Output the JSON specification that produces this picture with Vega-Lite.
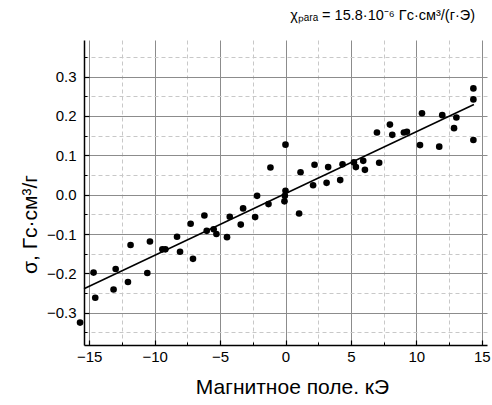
{
  "$schema": "https://vega.github.io/schema/vega-lite/v6.json",
  "width": 403,
  "height": 305,
  "autosize": {"type": "none"},
  "padding": {"left": 84, "top": 40, "right": 5, "bottom": 60},
  "background": "white",
  "title": {"text": "χₚₐᵣₐ = 15.8·10⁻⁶ Гс·см³/(г·Э)", "anchor": "end", "frame": "group", "fontSize": 14.5, "font": "Liberation Sans", "fontWeight": "normal", "color": "black", "offset": 17, "dx": -12},
  "config": {"view": {"stroke": null}, "font": "Liberation Sans"},
  "datasets": {
    "fit": [
      {"H": -15.4, "sigma": -0.239},
      {"H": 14.4, "sigma": 0.229}
    ],
    "points": [
      {"H": -15.7, "sigma": -0.325},
      {"H": -14.67, "sigma": -0.198},
      {"H": -14.54, "sigma": -0.262},
      {"H": -13.14, "sigma": -0.241},
      {"H": -12.98, "sigma": -0.189},
      {"H": -12.04, "sigma": -0.222},
      {"H": -11.84, "sigma": -0.128},
      {"H": -10.56, "sigma": -0.199},
      {"H": -10.36, "sigma": -0.119},
      {"H": -9.41, "sigma": -0.139},
      {"H": -9.18, "sigma": -0.139},
      {"H": -8.29, "sigma": -0.107},
      {"H": -8.06, "sigma": -0.145},
      {"H": -7.25, "sigma": -0.074},
      {"H": -7.07, "sigma": -0.163},
      {"H": -6.2, "sigma": -0.053},
      {"H": -6.02, "sigma": -0.092},
      {"H": -5.49, "sigma": -0.088},
      {"H": -5.28, "sigma": -0.1},
      {"H": -4.47, "sigma": -0.108},
      {"H": -4.26, "sigma": -0.056},
      {"H": -3.42, "sigma": -0.076},
      {"H": -3.24, "sigma": -0.035},
      {"H": -2.32, "sigma": -0.057},
      {"H": -2.17, "sigma": -0.003},
      {"H": -1.3, "sigma": -0.024},
      {"H": -1.15, "sigma": 0.069},
      {"H": 0, "sigma": 0.127},
      {"H": 0, "sigma": 0.01},
      {"H": -0.05, "sigma": -0.003},
      {"H": -0.08, "sigma": -0.017},
      {"H": 1.04, "sigma": -0.048},
      {"H": 1.15, "sigma": 0.057},
      {"H": 2.11, "sigma": 0.024},
      {"H": 2.22, "sigma": 0.076},
      {"H": 3.14, "sigma": 0.03},
      {"H": 3.26, "sigma": 0.07},
      {"H": 4.18, "sigma": 0.037},
      {"H": 4.36, "sigma": 0.077},
      {"H": 5.23, "sigma": 0.082},
      {"H": 5.38, "sigma": 0.07},
      {"H": 5.94, "sigma": 0.086},
      {"H": 6.07, "sigma": 0.063},
      {"H": 6.99, "sigma": 0.158},
      {"H": 7.16, "sigma": 0.081},
      {"H": 7.98, "sigma": 0.178},
      {"H": 8.16, "sigma": 0.152},
      {"H": 9.05, "sigma": 0.158},
      {"H": 9.28, "sigma": 0.16},
      {"H": 10.28, "sigma": 0.126},
      {"H": 10.43, "sigma": 0.207},
      {"H": 11.75, "sigma": 0.122},
      {"H": 11.98, "sigma": 0.202},
      {"H": 12.88, "sigma": 0.169},
      {"H": 13.06, "sigma": 0.196},
      {"H": 14.36, "sigma": 0.27},
      {"H": 14.36, "sigma": 0.242},
      {"H": 14.36, "sigma": 0.139}
    ]
  },
  "layer": [
    {
      "data": {"name": "fit"},
      "mark": {"type": "line", "color": "black", "strokeWidth": 1.5},
      "encoding": {
        "x": {
          "field": "H", "type": "quantitative",
          "scale": {"domain": [-15.4, 15.4], "nice": false, "zero": false},
          "axis": {"orient": "bottom", "values": [-12.5, -7.5, -2.5, 2.5, 7.5, 12.5], "grid": true, "gridColor": "#c8c8c8", "gridDash": [4, 3], "gridWidth": 1, "gridOpacity": 1, "labels": false, "domain": false, "ticks": true, "tickSize": -3, "tickColor": "black", "tickWidth": 1, "title": null}
        },
        "y": {
          "field": "sigma", "type": "quantitative",
          "scale": {"domain": [-0.382, 0.393], "nice": false, "zero": false},
          "axis": {"orient": "left", "values": [-0.35, -0.25, -0.15, -0.05, 0.05, 0.15, 0.25, 0.35], "grid": true, "gridColor": "#c8c8c8", "gridDash": [4, 3], "gridWidth": 1, "gridOpacity": 1, "labels": false, "domain": false, "ticks": true, "tickSize": -3, "tickColor": "black", "tickWidth": 1, "title": null}
        }
      }
    },
    {
      "data": {"name": "points"},
      "mark": {"type": "point", "filled": true, "color": "black", "size": 44, "opacity": 1},
      "encoding": {
        "x": {
          "field": "H", "type": "quantitative",
          "scale": {"domain": [-15.4, 15.4], "nice": false, "zero": false},
          "axis": {"orient": "bottom", "values": [-15, -10, -5, 0, 5, 10, 15], "grid": true, "gridColor": "#8c8c8c", "gridWidth": 1, "gridOpacity": 1, "domain": true, "domainColor": "black", "domainWidth": 1.5, "ticks": true, "tickSize": -5, "tickColor": "black", "tickWidth": 1.2, "labelFontSize": 15, "labelColor": "black", "labelFont": "Liberation Sans", "labelPadding": 9, "title": "Магнитное поле. кЭ", "titleFontSize": 21, "titleFontWeight": "normal", "titleFont": "Liberation Sans", "titleColor": "black", "titleX": 208, "titleY": 42, "titleBaseline": "middle", "titleAlign": "center"}
        },
        "y": {
          "field": "sigma", "type": "quantitative",
          "scale": {"domain": [-0.382, 0.393], "nice": false, "zero": false},
          "axis": {"orient": "left", "values": [-0.3, -0.2, -0.1, 0, 0.1, 0.2, 0.3], "format": ".1f", "grid": true, "gridColor": "#8c8c8c", "gridWidth": 1, "gridOpacity": 1, "domain": true, "domainColor": "black", "domainWidth": 1.5, "ticks": true, "tickSize": -5, "tickColor": "black", "tickWidth": 1.2, "labelFontSize": 15, "labelColor": "black", "labelFont": "Liberation Sans", "labelPadding": 13, "title": "σ, Гс·см³/г", "titleFontSize": 21, "titleFontWeight": "normal", "titleFont": "Liberation Sans", "titleColor": "black", "titleX": -54, "titleY": 184, "titleBaseline": "middle", "titleAlign": "center", "titleAngle": -90}
        }
      }
    }
  ],
  "resolve": {"axis": {"x": "independent", "y": "independent"}}
}
